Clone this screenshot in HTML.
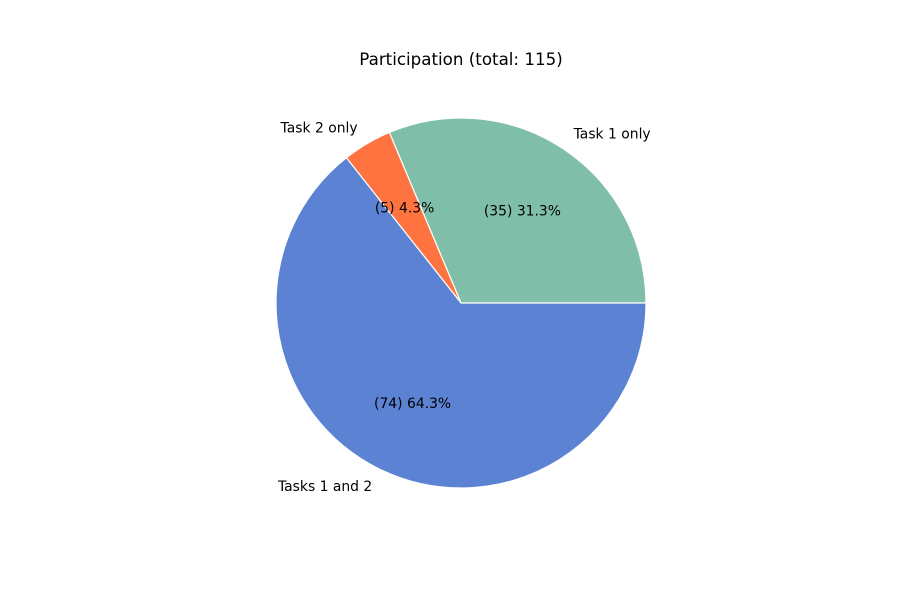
<!DOCTYPE html>
<html><head><meta charset="utf-8"><style>
body{margin:0;background:#fff}
svg text{font-family:"DejaVu Sans","Liberation Sans",sans-serif;fill:#000}
</style></head><body>
<svg id="chart" width="900" height="600">
<text x="461" y="65" font-size="16.7" text-anchor="middle">Participation (total: 115)</text>
<g id="wedges"></g><g id="labels"></g>
</svg>
<script>
const categories=["Task 1 only","Task 2 only","Tasks 1 and 2"];
const counts=[35,5,74];
const percents=[31.3,4.3,64.3];
const colors=["#7fbfaa","#ff7340","#5c82d4"];
const cx=461,cy=303,R=185;
const ns="http://www.w3.org/2000/svg";
const wg=document.getElementById('wedges'),lg=document.getElementById('labels');
const total=percents.reduce((a,b)=>a+b,0);
let a0=0;
function pt(a,r){return [cx+r*Math.cos(a),cy-r*Math.sin(a)];}
percents.forEach((p,i)=>{
  const a1=a0+p/total*2*Math.PI;
  const [x0,y0]=pt(a0,R),[x1,y1]=pt(a1,R);
  const path=document.createElementNS(ns,'path');
  path.setAttribute('d',`M${cx},${cy} L${x0},${y0} A${R},${R} 0 ${a1-a0>Math.PI?1:0} 0 ${x1},${y1} Z`);
  path.setAttribute('fill',colors[i]);path.setAttribute('stroke','#fff');path.setAttribute('stroke-width','1.2');
  
  
  wg.appendChild(path);
  const m=(a0+a1)/2;
  const [lx,ly]=pt(m,R*1.1);
  const t=document.createElementNS(ns,'text');
  t.setAttribute('x',lx);t.setAttribute('y',ly+5);t.setAttribute('font-size','13.9');
  t.setAttribute('text-anchor',Math.cos(m)>=0?'start':'end');
  t.textContent=categories[i];
  
  
  lg.appendChild(t);
  const [px,py]=pt(m,R*0.6);
  const v=document.createElementNS(ns,'text');
  v.setAttribute('x',px);v.setAttribute('y',py+5);v.setAttribute('font-size','13.9');
  v.setAttribute('text-anchor','middle');
  v.textContent=`(${counts[i]}) ${percents[i].toFixed(1)}%`;
  
  
  lg.appendChild(v);
  a0=a1;
});
</script>
</body></html>
